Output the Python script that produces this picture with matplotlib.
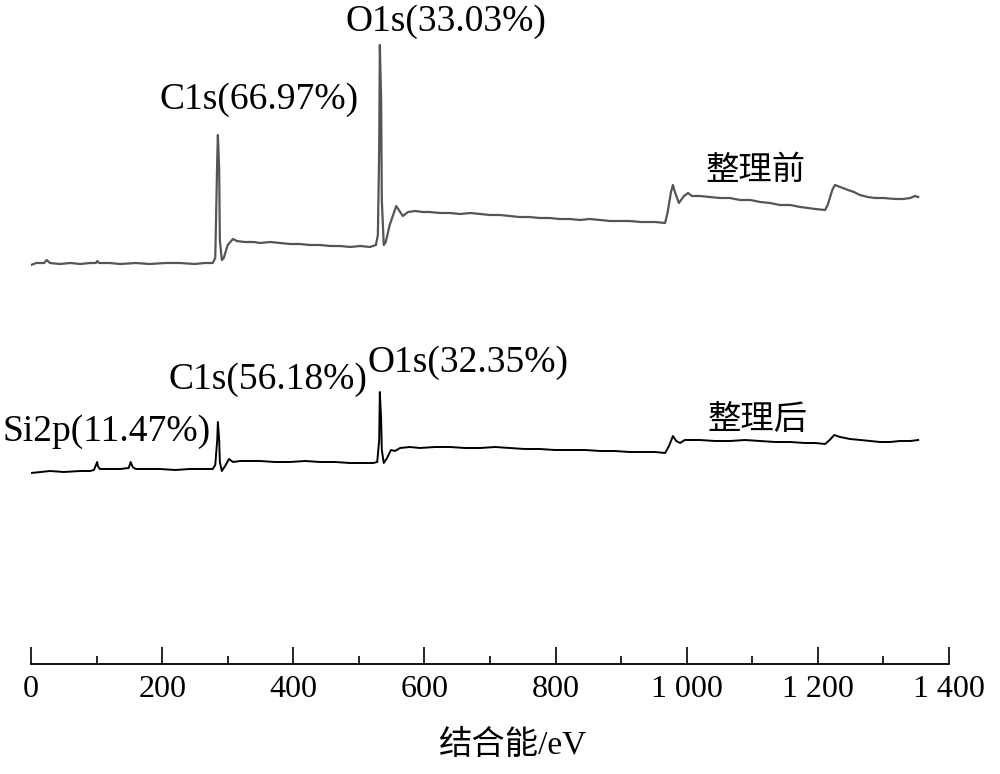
import matplotlib
matplotlib.use("Agg")
import matplotlib.pyplot as plt

# ---------------- data (arbitrary intensity units) ----------------
before_ev = [0, 8, 20, 24, 29, 44, 60, 75, 90, 99, 101, 104, 120, 136, 160, 181, 205, 227, 250, 265, 277,
             281, 284, 285, 287, 288, 291, 294, 300, 308, 314, 326, 340, 349, 365, 380, 395, 410, 425, 441,
             456, 471, 487, 502, 517, 526, 529, 531, 532, 534, 535, 538, 541, 547, 557, 563, 567, 575, 586,
             597, 608, 624, 639, 655, 670, 685, 700, 715, 730, 745, 760, 776, 791, 806, 822, 837, 852, 868,
             883, 898, 913, 930, 952, 967, 971, 976, 979, 982, 988, 996, 1002, 1008, 1020, 1035, 1051, 1066,
             1081, 1097, 1112, 1127, 1142, 1158, 1173, 1185, 1196, 1211, 1215, 1222, 1226, 1234, 1246, 1255,
             1264, 1276, 1287, 1300, 1318, 1330, 1341, 1348, 1353]
before_int = [405, 407, 407, 410, 407, 406, 407, 406, 407, 407, 409, 407, 407, 406, 407, 406, 407, 407, 406, 407, 407,
              412, 510, 535, 500, 430, 410, 412, 425, 431, 429, 428, 428, 427, 428, 427, 426, 426, 425, 425,
              424, 424, 423, 424, 423, 425, 435, 520, 625, 570, 470, 425, 428, 445, 464, 458, 454, 458, 459,
              458, 458, 457, 457, 456, 457, 456, 455, 455, 454, 453, 453, 452, 452, 451, 451, 450, 451, 450,
              449, 449, 449, 448, 448, 447, 458, 478, 485, 478, 467, 474, 477, 474, 474, 473, 472, 472,
              470, 470, 468, 467, 465, 465, 463, 462, 461, 460, 465, 480, 485, 483, 480, 478,
              475, 473, 472, 472, 471, 471, 472, 474, 473]

after_ev = [0, 15, 29, 50, 75, 90, 96, 99, 101, 102, 105, 120, 136, 149, 152, 155, 160, 180, 197, 220, 242, 260,
            277, 281, 284, 285, 287, 288, 291, 296, 302, 308, 319, 335, 349, 372, 395, 418, 441, 464, 486, 505,
            522, 528, 531, 532, 534, 535, 538, 543, 549, 555, 563, 578, 593, 616, 639, 662, 685, 708, 730, 753,
            776, 799, 822, 845, 868, 890, 913, 935, 952, 967, 973, 979, 984, 990, 997, 1020, 1043, 1066, 1089,
            1112, 1135, 1158, 1180, 1196, 1211, 1218, 1225, 1234, 1249, 1265, 1280, 1295, 1310, 1325, 1341, 1353]
after_int = [197, 198, 199, 198, 199, 199, 200, 205, 208, 204, 201, 201, 201, 202, 208, 203, 201, 201, 201, 200, 201, 201,
             201, 205, 230, 248, 230, 208, 199, 204, 211, 208, 209, 209, 209, 208, 208, 209, 208, 208, 207, 207,
             207, 208, 230, 278, 250, 220, 207, 212, 220, 219, 222, 223, 222, 223, 223, 222, 222, 223, 222, 221,
             221, 220, 220, 220, 219, 219, 218, 218, 218, 217, 224, 234, 229, 227, 230, 230, 229, 229, 230,
             229, 228, 228, 227, 227, 226, 230, 235, 233, 231, 230, 229, 228, 228, 229, 229, 230]

xticks_major = [0, 200, 400, 600, 800, 1000, 1200, 1400]
xtick_labels = ["0", "200", "400", "600", "800", "1 000", "1 200", "1 400"]
xticks_minor = [100, 300, 500, 700, 900, 1100, 1300]

annotations = [
    ("O1s(33.03%)", 446, 22),
    ("C1s(66.97%)", 259, 100),
    ("C1s(56.18%)", 268, 380),
    ("O1s(32.35%)", 468, 363),
    ("Si2p(11.47%)", 107, 432),
]
sample_labels = [("整理前", 756, 170), ("整理后", 758, 419)]

# ---------------- figure ----------------
W, H = 1000, 774
fig = plt.figure(figsize=(W / 100, H / 100), dpi=100)
axis_y = 664
ax = fig.add_axes([31 / W, (H - axis_y) / H, 918 / W, axis_y / H])

ax.plot(before_ev, before_int, color="#555555", lw=1.6, solid_joinstyle="round")
ax.plot(after_ev, after_int, color="#000000", lw=1.4, solid_joinstyle="round")

ax.set_xlim(0, 1400)
ax.set_ylim(670 - axis_y, 670)

for s in ["top", "right", "left"]:
    ax.spines[s].set_visible(False)
ax.spines["bottom"].set_linewidth(1.3)
ax.set_yticks([])
ax.set_xticks(xticks_major)
ax.set_xticklabels(xtick_labels, fontfamily="Liberation Serif", fontsize=23)
ax.set_xticks(xticks_minor, minor=True)
ax.tick_params(axis="x", which="major", direction="in", length=12, width=1.2, pad=8)
ax.tick_params(axis="x", which="minor", direction="in", length=6, width=1.2)

serif = ["Liberation Serif", "Noto Sans CJK SC"]
for txt, px, py in annotations:
    fig.text(px / W, 1 - py / H, txt, ha="center", va="center",
             fontfamily=serif, fontsize=27, color="black")
for txt, px, py in sample_labels:
    fig.text(px / W, 1 - py / H, txt, ha="center", va="center",
             fontfamily=["Noto Sans CJK SC"], fontsize=24, color="black")

fig.text(513 / W, 1 - 745 / H, "结合能/eV", ha="center", va="center",
         fontfamily=serif, fontsize=24, color="black")

fig.savefig("out.png", dpi=100)
